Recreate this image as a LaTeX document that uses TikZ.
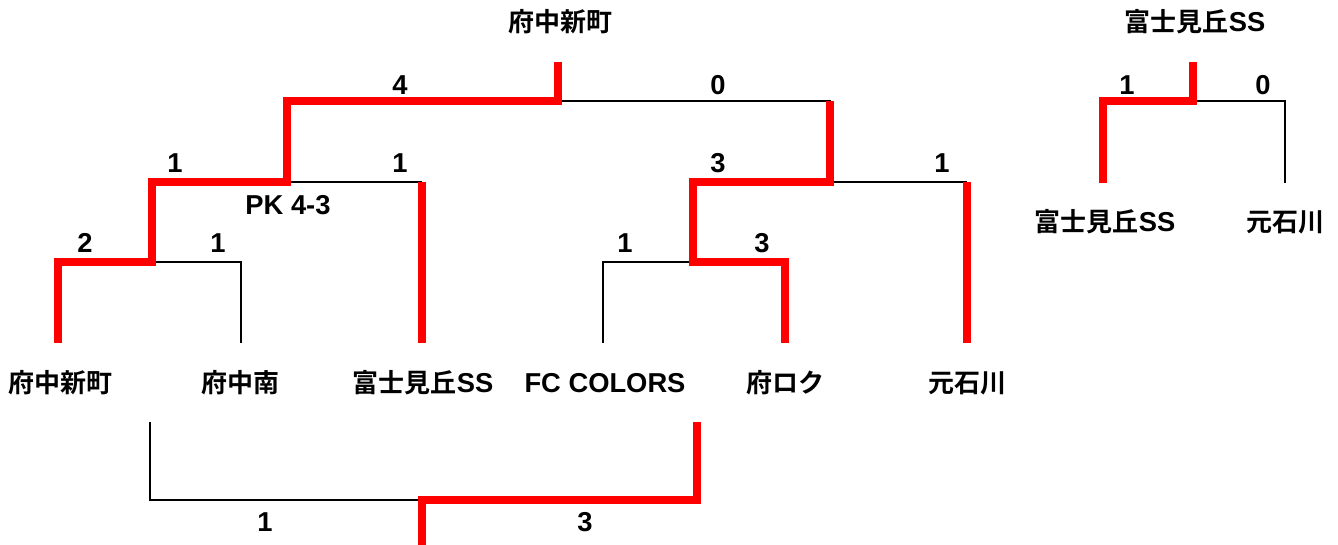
\documentclass[tikz,border=0pt]{standalone}
\usepackage{fontspec}
\setmainfont{Liberation Sans}
\newfontfamily\jp{Noto Sans CJK JP}[UprightFont=*, BoldFont=* Bold]
\usepackage{tikz}

\newcommand\kanji[1]{{\jp\bfseries\fontsize{19.5}{20}\selectfont #1}}
\tikzset{
	win/.style={draw=red, line width=6pt, line join=miter},
	lose/.style={draw=black, line width=2pt, line join=miter},
	team/.style={font=\fontsize{20.5}{22}\selectfont\bfseries, inner sep=0pt},
	score/.style={font=\fontsize{20.5}{22}\selectfont\bfseries, inner sep=0pt}
}

\begin{document}
\begin{tikzpicture}[x=0.75pt, y=-0.75pt]
	\useasboundingbox (0,0) rectangle (1338,545);
		%teams
			\node[team] (fuchu) at (60,383) {\kanji{府中新町}};
			\node[team] (minami) at (240,383) {\kanji{府中南}};
			\node[team] (fujimi) at (423,383) {\kanji{富士見丘}SS};
			\node[team] (colors) at (605,383) {FC COLORS};
			\node[team] (roku) at (785,383) {\kanji{府ロク}};
			\node[team] (moto) at (967,383) {\kanji{元石川}};
			\node[team] (champ) at (560,22) {\kanji{府中新町}};
		%leaf ends + joints
			\coordinate (l1) at (58,343);
			\coordinate (l2) at (241,343);
			\coordinate (l3) at (422,343);
			\coordinate (l4) at (603,343);
			\coordinate (l5) at (785,343);
			\coordinate (l6) at (967,343);
			\coordinate (m1) at (152,262);
			\coordinate (m2) at (693,262);
			\coordinate (s1) at (287,182);
			\coordinate (s2) at (830,182);
			\coordinate (f) at (558,101);
			\coordinate (top) at (558,62);
		%bracket
			\draw[lose] (m1) -| (l2);
			\draw[lose] (s1) -| (l3 |- s1);
			\draw[lose] (m2) -| (l4);
			\draw[lose] (s2) -| (l6 |- s2);
			\draw[lose] (f) -| (s2);
			\draw[win] (l1) |- (m1) |- (s1) |- (f) -- (top);
			\draw[win] (l3 |- s1) -- (l3);
			\draw[win] (l5) |- (m2) |- (s2) -- (s2 |- f);
			\draw[win] (l6 |- s2) -- (l6);
		%scores
			\node[score] (a1) at (85,243) {2};
			\node[score] (a2) at (218,243) {1};
			\node[score] (b1) at (175,163) {1};
			\node[score] (b2) at (400,163) {1};
			\node[team] (pk) at (288,205) {PK 4-3};
			\node[score] (c1) at (625,243) {1};
			\node[score] (c2) at (762,243) {3};
			\node[score] (d1) at (718,163) {3};
			\node[score] (d2) at (942,163) {1};
			\node[score] (e1) at (400,85) {4};
			\node[score] (e2) at (718,85) {0};
		%third place
			\coordinate (p1) at (150,422);
			\coordinate (p2) at (697,422);
			\coordinate (p) at (422,500);
			\coordinate (pend) at (422,545);
			\draw[lose] (p1) |- (p);
			\draw[win] (p2) |- (p) -- (pend);
			\node[score] (g1) at (265,522) {1};
			\node[score] (g2) at (585,522) {3};
		%small bracket
			\node[team] (champ2) at (1195,22) {\kanji{富士見丘}SS};
			\node[team] (fujimi2) at (1105,222) {\kanji{富士見丘}SS};
			\node[team] (moto2) at (1285,222) {\kanji{元石川}};
			\coordinate (k1) at (1103,183);
			\coordinate (k2) at (1285,183);
			\coordinate (k) at (1193,101);
			\coordinate (ktop) at (1193,62);
			\draw[lose] (k) -| (k2);
			\draw[win] (k1) |- (k) -- (ktop);
			\node[score] (h1) at (1127,85) {1};
			\node[score] (h2) at (1263,85) {0};
	\end{tikzpicture}
\end{document}
